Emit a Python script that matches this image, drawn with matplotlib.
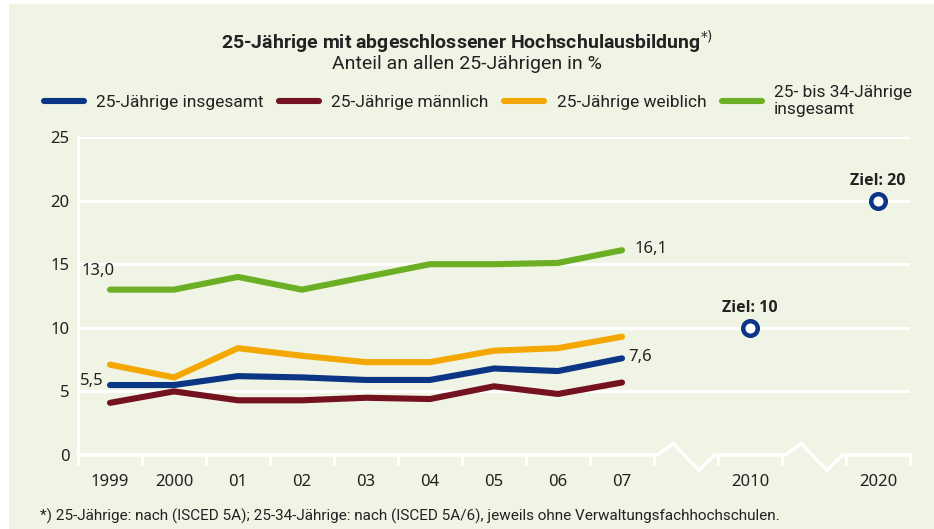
import matplotlib
matplotlib.use("Agg")
import matplotlib.pyplot as plt
from matplotlib.patches import Rectangle

# Daten
jahre = ["1999", "2000", "01", "02", "03", "04", "05", "06", "07"]
ziel_labels = ["2010", "2020"]
gesamt = [5.5, 5.5, 6.2, 6.1, 5.9, 5.9, 6.8, 6.6, 7.6]
maennlich = [4.1, 5.0, 4.3, 4.3, 4.5, 4.4, 5.4, 4.8, 5.7]
weiblich = [7.1, 6.1, 8.4, 7.8, 7.3, 7.3, 8.2, 8.4, 9.3]
gesamt_25_34 = [13.0, 13.0, 14.0, 13.0, 14.0, 15.0, 15.0, 15.1, 16.1]
ziele = [10, 20]

BG = "#f0f4e4"
BLAU = "#0b3585"
ROT = "#74121f"
ORANGE = "#f4a700"
GRUEN = "#6caf24"
TEXT = "#222222"
COND = ["Roboto", "DejaVu Sans"]
NORM = ["Noto Sans", "DejaVu Sans"]
FETT = ["Open Sans", "DejaVu Sans"]

fig = plt.figure(figsize=(9.34, 5.29), dpi=100)
fig.patches.append(Rectangle((9 / 934, 0), 1, 1 - 4 / 529, transform=fig.transFigure,
                             facecolor=BG, edgecolor="none", zorder=-10))

ax = fig.add_axes([78 / 934, 74 / 529, (910 - 78) / 934, (455 - 137) / 529])
ax.set_facecolor("none")
for s in ax.spines.values():
    s.set_visible(False)

x = list(range(len(jahre)))
x_ziel = [10, 12]
ax.set_xlim(-0.5, 12.5)
ax.set_ylim(0, 25)

for y in [5, 10, 15, 20, 25]:
    ax.axhline(y, color="white", lw=2.2, zorder=1)
ax.plot([-0.5, -0.5], [0, 25], color="white", lw=2.2, clip_on=False, zorder=1)

# x-Achse mit Unterbrechungen
ax_x = [-0.5, 8.55, 8.8, 9.2, 9.45, 10.55, 10.8, 11.2, 11.45, 12.5]
ax_y = [0, 0, 0.9, -1.2, 0, 0, 0.9, -1.2, 0, 0]
ax.plot(ax_x, ax_y, color="white", lw=2.5, clip_on=False, zorder=1, solid_joinstyle="miter")

grenzen = [i + 0.5 for i in range(-1, 13)]
ax.set_xticks(grenzen, minor=True)
ax.tick_params(axis="x", which="minor", length=7, width=2.2, color="white", direction="out")
ax.set_xticks(x + x_ziel)
ax.set_xticklabels(jahre + ziel_labels, family=NORM, fontsize=12, color=TEXT)
ax.tick_params(axis="x", which="major", length=0, pad=14)
ax.set_yticks([0, 5, 10, 15, 20, 25])
ax.set_yticklabels(["0", "5", "10", "15", "20", "25"], family=NORM, fontsize=12, color=TEXT)
ax.tick_params(axis="y", length=0, pad=6)

kw = dict(lw=4.4, solid_capstyle="round", solid_joinstyle="miter", zorder=3)
l1, = ax.plot(x, gesamt, color=BLAU, label="25-Jährige insgesamt", **kw)
l2, = ax.plot(x, maennlich, color=ROT, label="25-Jährige männlich", **kw)
l3, = ax.plot(x, weiblich, color=ORANGE, label="25-Jährige weiblich", **kw)
l4, = ax.plot(x, gesamt_25_34, color=GRUEN, label="25- bis 34-Jährige\ninsgesamt", **kw)
ax.plot(x_ziel, ziele, ls="none", marker="o", ms=10.5, mfc="white", mec=BLAU, mew=3.2,
        zorder=4, clip_on=False)

def fmt(v):
    return f"{v:.1f}".replace(".", ",")

ax.text(x[0] - 0.45, gesamt_25_34[0] + 0.8, fmt(gesamt_25_34[0]), family=NORM, fontsize=12,
        color=TEXT, ha="left", va="bottom")
ax.text(x[0] - 0.1, gesamt[0] + 0.35, fmt(gesamt[0]), family=NORM, fontsize=12,
        color=TEXT, ha="right", va="center")
ax.text(x[-1] + 0.2, gesamt_25_34[-1] + 0.1, fmt(gesamt_25_34[-1]), family=NORM, fontsize=12,
        color=TEXT, ha="left", va="center")
ax.text(x[-1] + 0.1, gesamt[-1] + 0.1, fmt(gesamt[-1]), family=NORM, fontsize=12,
        color=TEXT, ha="left", va="center")
for xz, z in zip(x_ziel, ziele):
    ax.text(xz, z + 0.9, f"Ziel: {z}", family=FETT, fontsize=11.5, fontweight="bold",
            color=TEXT, ha="center", va="bottom")

fig.text(0.5, 1 - 42 / 529, "25-Jährige mit abgeschlossener Hochschulausbildung$^{*)}$",
         family=COND, fontsize=14, fontweight="bold", color=TEXT, ha="center", va="center")
fig.text(0.5, 1 - 64 / 529, "Anteil an allen 25-Jährigen in %", family=COND, fontsize=14,
         color=TEXT, ha="center", va="center")

leg = fig.legend(handles=[l1, l2, l3, l4], loc="center", bbox_to_anchor=(478 / 934, 1 - 101 / 529),
                 ncol=4, frameon=False, handlelength=2.3, handletextpad=0.7,
                 columnspacing=0.9, borderpad=0, prop=dict(family=COND, size=12.5))
for t in leg.get_texts():
    t.set_color(TEXT)

fig.text(40 / 934, 1 - 516 / 529,
         "*) 25-Jährige: nach (ISCED 5A); 25-34-Jährige: nach (ISCED 5A/6), jeweils ohne Verwaltungsfachhochschulen.",
         family=COND, fontsize=11, color=TEXT, ha="left", va="center")

fig.savefig("out.png", dpi=100, facecolor="white")
